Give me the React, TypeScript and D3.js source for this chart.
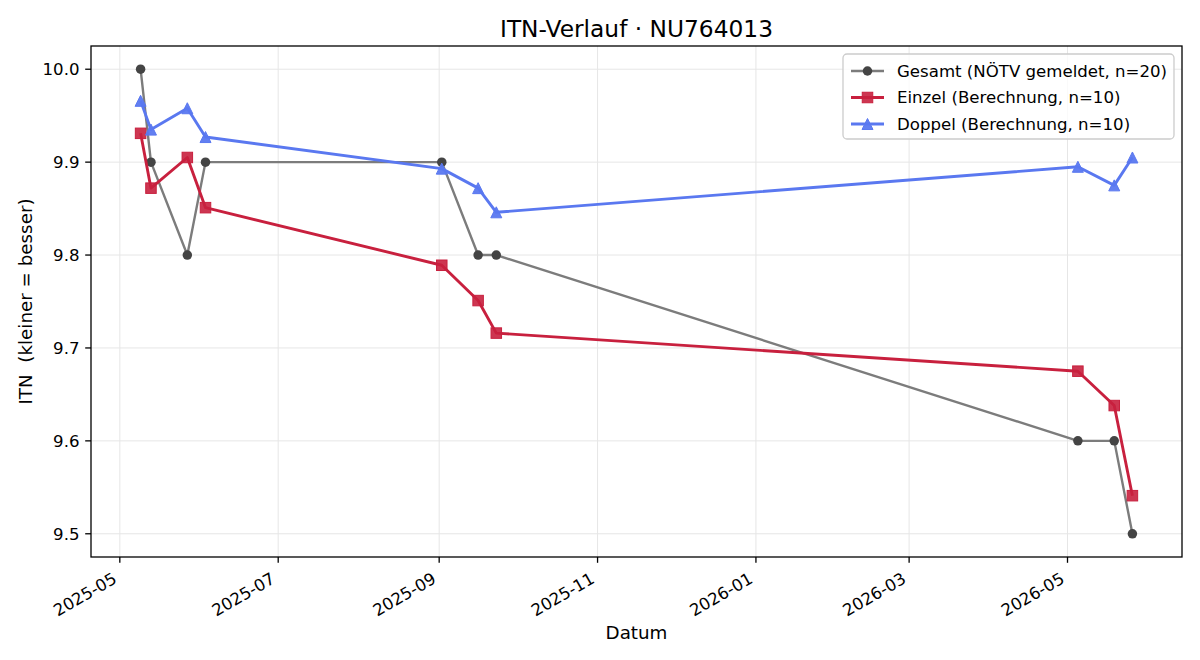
import * as d3 from 'd3';

// ITN history for one player
const dates = ['2025-05-09', '2025-05-13', '2025-05-27', '2025-06-03', '2025-09-02', '2025-09-16', '2025-09-23', '2026-05-05', '2026-05-19', '2026-05-26'];
const gesamt = [10.0, 9.9, 9.8, 9.9, 9.9, 9.8, 9.8, 9.6, 9.6, 9.5];
const einzel = [9.931, 9.872, 9.905, 9.851, 9.789, 9.751, 9.716, 9.675, 9.638, 9.541];
const doppel = [9.966, 9.935, 9.958, 9.927, 9.893, 9.872, 9.846, 9.895, 9.875, 9.905];
const yTicks = [9.5, 9.6, 9.7, 9.8, 9.9, 10.0];
const legendLabels = ['Gesamt (NÖTV gemeldet, n=20)', 'Einzel (Berechnung, n=10)', 'Doppel (Berechnung, n=10)'];

const W = 1200, H = 660;
const m = { top: 46, right: 18, bottom: 103, left: 91 };
const iw = W - m.left - m.right;
const ih = H - m.top - m.bottom;
const FONT = 'DejaVu Sans, sans-serif';

const GRAY_LINE = '#7c7c7c', GRAY_MK = '#444444';
const RED = '#c8203e';
const BLUE = '#5a78f0';

const parse = d3.utcParse('%Y-%m-%d');
const xDates = dates.map(d => parse(d) as Date);

const xExt = d3.extent(xDates) as [Date, Date];
const xPad = (+xExt[1] - +xExt[0]) * 0.05;
const x = d3.scaleUtc().domain([new Date(+xExt[0] - xPad), new Date(+xExt[1] + xPad)]).range([0, iw]);
const allY = [...gesamt, ...einzel, ...doppel];
const yMin = d3.min(allY)!, yMax = d3.max(allY)!;
const yPad = (yMax - yMin) * 0.05;
const y = d3.scaleLinear().domain([yMin - yPad, yMax + yPad]).range([ih, 0]);

const xTicks = x.ticks(d3.utcMonth.every(2)!);
const fmt = d3.utcFormat('%Y-%m');

const line = d3.line<number>().x((_, i) => x(xDates[i])).y(v => y(v));

function marker(kind: string, cx: number, cy: number, key: string | number, color: string, s: number) {
  if (kind === 'o') return <circle key={key} cx={cx} cy={cy} r={s / 2} fill={color} />;
  if (kind === 's') return <rect key={key} x={cx - s / 2} y={cy - s / 2} width={s} height={s} fill={color} fillOpacity={0.9} stroke={color} strokeWidth={1} />;
  const h = s / 2;
  return <path key={key} d={`M${cx},${cy - h}L${cx - h},${cy + h}L${cx + h},${cy + h}Z`} fill={color} fillOpacity={0.95} stroke={color} strokeWidth={1} />;
}

const series = [
  { vals: gesamt, color: GRAY_LINE, mk: GRAY_MK, kind: 'o', lw: 2.4, size: 9.5 },
  { vals: einzel, color: RED, mk: RED, kind: 's', lw: 2.9, size: 10.5 },
  { vals: doppel, color: BLUE, mk: BLUE, kind: '^', lw: 2.9, size: 11 },
];

export default function App() {
  const tickFs = 16.6;
  const labFs = 18.3;
  const th = tickFs * 1.164;
  return (
    <svg width={W} height={H} style={{ position: 'absolute', left: 0, top: 0, background: '#fff' }} fontFamily={FONT}>
      <rect width={W} height={H} fill="#fff" />
      <text x={m.left + iw / 2} y={37} textAnchor="middle" fontSize={23.3}>ITN-Verlauf · NU764013</text>
      <g transform={`translate(${m.left},${m.top})`}>
        {/* grid */}
        {yTicks.map(t => (
          <line key={`gy${t}`} x1={0} x2={iw} y1={y(t)} y2={y(t)} stroke="#e6e6e6" strokeWidth={1} />
        ))}
        {xTicks.map(t => (
          <line key={`gx${+t}`} x1={x(t)} x2={x(t)} y1={0} y2={ih} stroke="#e6e6e6" strokeWidth={1} />
        ))}
        {/* series */}
        {series.map((s, si) => (
          <g key={si}>
            <path d={line(s.vals) || ''} fill="none" stroke={s.color} strokeWidth={s.lw} strokeLinejoin="round" />
            {s.vals.map((v, i) => marker(s.kind, x(xDates[i]), y(v), i, s.mk, s.size))}
          </g>
        ))}
        {/* frame */}
        <rect x={0} y={0} width={iw} height={ih} fill="none" stroke="#000" strokeWidth={1.3} />
        {/* y axis */}
        {yTicks.map(t => (
          <g key={`ty${t}`} transform={`translate(0,${y(t)})`}>
            <line x1={-5.8} x2={0} stroke="#000" strokeWidth={1.3} />
            <text x={-11.5} dy="0.35em" textAnchor="end" fontSize={tickFs}>{t.toFixed(1)}</text>
          </g>
        ))}
        {/* x axis */}
        {xTicks.map(t => (
          <g key={`tx${+t}`} transform={`translate(${x(t)},${ih})`}>
            <line y1={0} y2={5.8} stroke="#000" strokeWidth={1.3} />
            <text transform={`translate(${-th * 0.5},${11.7}) rotate(-30)`} dy="0.93em" textAnchor="end" fontSize={tickFs}>{fmt(t)}</text>
          </g>
        ))}
        <text x={iw / 2} y={ih + 82} textAnchor="middle" fontSize={labFs}>Datum</text>
        <text transform={`translate(${26 - m.left},${ih / 2}) rotate(-90)`} dy="0.35em" textAnchor="middle" fontSize={labFs} style={{ whiteSpace: 'pre' }}>ITN  (kleiner = besser)</text>
        {/* legend */}
        <g transform={`translate(${843 - m.left},${54 - m.top})`}>
          <rect x={0} y={0} width={331} height={85} rx={4} fill="#fff" fillOpacity={0.8} stroke="#cccccc" strokeWidth={1.3} />
          {series.map((s, i) => {
            const cy = 17 + i * 26.5;
            return (
              <g key={`lg${i}`}>
                <line x1={8} x2={41} y1={cy} y2={cy} stroke={s.color} strokeWidth={s.lw} />
                {marker(s.kind, 24.5, cy, `m${i}`, s.mk, s.size)}
                <text x={54} y={cy} dy="0.35em" fontSize={tickFs}>{legendLabels[i]}</text>
              </g>
            );
          })}
        </g>
      </g>
    </svg>
  );
}
